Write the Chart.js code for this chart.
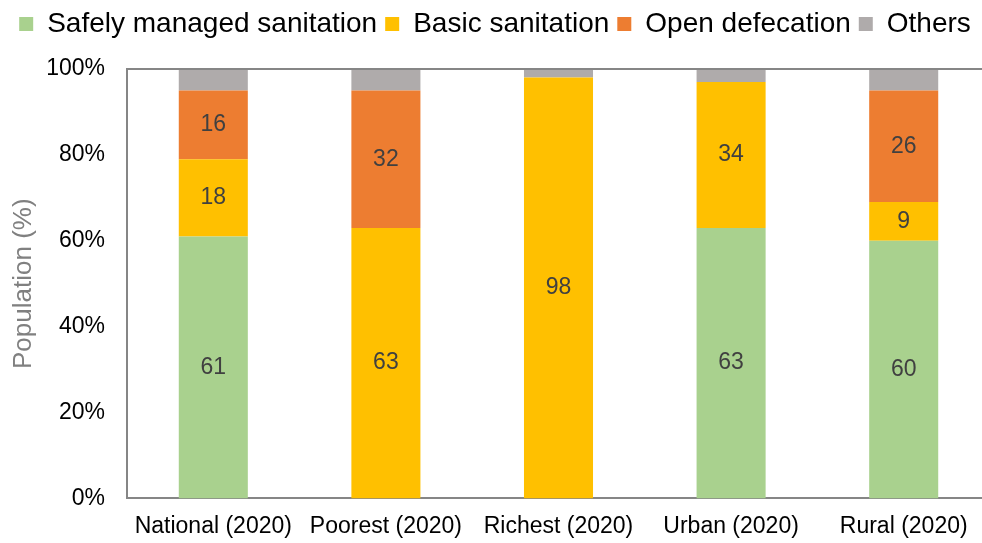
<!DOCTYPE html>
<html>
<head>
<meta charset="utf-8">
<script src="https://cdn.jsdelivr.net/npm/chart.js@4"></script>
<style>
  html, body { margin: 0; padding: 0; background: #fff; overflow: hidden; }
  #wrap { width: 990px; height: 558px; }
</style>
</head>
<body>
<div id="wrap"><canvas id="c"></canvas></div>
<script>
// categories
const categories = ['National (2020)', 'Poorest (2020)', 'Richest (2020)', 'Urban (2020)', 'Rural (2020)'];
// series values (% of population)
const safelyManaged = [61, 0, 0, 63, 60];
const basicSanitation = [18, 63, 98, 34, 9];
const openDefecation = [16, 32, 0, 0, 26];
const others = [5, 5, 2, 3, 5];
const yTicks = [0, 20, 40, 60, 80, 100];

const FONT = '"Liberation Sans", Arial, sans-serif';

// labels inside the segments (not for "Others", not for zero)
const segmentLabels = {
    id: 'segmentLabels',
    afterDatasetsDraw(chart) {
        const ctx = chart.ctx;
        ctx.save();
        ctx.font = '23px ' + FONT;
        ctx.fillStyle = '#404040';
        ctx.textAlign = 'center';
        ctx.textBaseline = 'middle';
        chart.data.datasets.forEach((ds, i) => {
            if (ds.label === 'Others') return;
            const meta = chart.getDatasetMeta(i);
            meta.data.forEach((bar, j) => {
                const v = ds.data[j];
                if (!v) return;
                const p = bar.getProps(['x', 'y', 'base'], true);
                ctx.fillText(String(v), p.x, (p.y + p.base) / 2);
            });
        });
        ctx.restore();
    }
};

// extra space under the legend
const legendGap = {
    id: 'legendGap',
    beforeInit(chart) {
        const fit = chart.legend.fit;
        chart.legend.fit = function () {
            fit.call(this);
            this.height += 21;
        };
    }
};

// thin frame line on top of plot area
const topFrame = {
    id: 'topFrame',
    afterDraw(chart) {
        const a = chart.chartArea;
        const ctx = chart.ctx;
        ctx.save();
        ctx.strokeStyle = '#868686';
        ctx.lineWidth = 2;
        ctx.beginPath();
        ctx.moveTo(a.left - 1, a.top);
        ctx.lineTo(a.right, a.top);
        ctx.stroke();
        ctx.restore();
    }
};

new Chart(document.getElementById('c'), {
    type: 'bar',
    data: {
        labels: categories,
        datasets: [
            { label: 'Safely managed sanitation', data: safelyManaged, backgroundColor: '#A9D18E' },
            { label: 'Basic sanitation', data: basicSanitation, backgroundColor: '#FFC000' },
            { label: 'Open defecation', data: openDefecation, backgroundColor: '#ED7D31' },
            { label: 'Others', data: others, backgroundColor: '#AFABAB' }
        ]
    },
    options: {
        responsive: true,
        maintainAspectRatio: false,
        animation: false,
        categoryPercentage: 0.8,
        barPercentage: 0.5,
        layout: { padding: { left: 0, right: 0, top: 2, bottom: 4 } },
        plugins: {
            legend: {
                position: 'top',
                labels: {
                    font: { size: 28, family: FONT },
                    color: '#000',
                    usePointStyle: true,
                    pointStyle: 'rect',
                    boxWidth: 14,
                    boxHeight: 14,
                    padding: 8
                }
            },
            tooltip: { enabled: false }
        },
        scales: {
            x: {
                stacked: true,
                grid: { display: false, drawTicks: false },
                border: { color: '#868686', width: 2 },
                ticks: {
                    color: '#000',
                    font: { size: 23, family: FONT },
                    padding: 14,
                    maxRotation: 0
                }
            },
            y: {
                stacked: true,
                min: 0,
                max: 100,
                afterBuildTicks(scale) { scale.ticks = yTicks.map(v => ({ value: v })); },
                afterFit(scale) { scale.width = 127; },
                grid: { display: false, drawTicks: false },
                border: { color: '#868686', width: 2 },
                ticks: {
                    color: '#000',
                    font: { size: 23, family: FONT },
                    padding: 22,
                    callback: v => v + '%'
                },
                title: {
                    display: true,
                    text: 'Population (%)',
                    color: '#808080',
                    font: { size: 26, family: FONT },
                    padding: { top: 8, bottom: 0 }
                }
            }
        }
    },
    plugins: [segmentLabels, legendGap, topFrame]
});
</script>
</body>
</html>
